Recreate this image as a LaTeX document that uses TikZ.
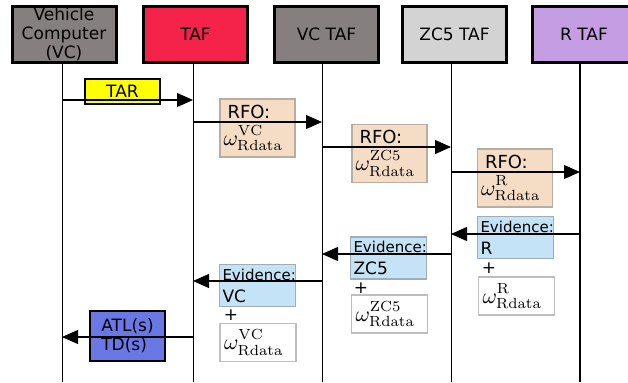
\documentclass[tikz,border=0pt]{standalone}
\usepackage{fontspec}
\newfontfamily\dejavu{DejaVu Sans}
\usetikzlibrary{positioning}
\usetikzlibrary{arrows.meta}
\definecolor{vcgray}{RGB}{134,127,127}
\definecolor{tafred}{RGB}{245,35,74}
\definecolor{zcgray}{RGB}{211,211,211}
\definecolor{rpurple}{RGB}{197,157,226}
\definecolor{taryellow}{RGB}{255,255,0}
\definecolor{rfofill}{RGB}{245,220,197}
\definecolor{rfoline}{RGB}{185,172,160}
\definecolor{evfill}{RGB}{197,227,246}
\definecolor{evline}{RGB}{160,172,182}
\definecolor{wline}{RGB}{190,190,190}
\definecolor{atlblue}{RGB}{106,120,230}
% omega with data owner on top and Rdata below
\newcommand{\wrdata}[1]{{\fontsize{10.5}{12}\selectfont$\omega^{\raisebox{1pt}{$\scriptstyle\mathrm{#1}$}}_{\mathrm{Rdata}}$}}

\begin{document}
\begin{tikzpicture}[x=0.5pt,y=-0.5pt,>={Triangle[length=8pt,width=7pt]},
    every node/.style={font=\dejavu\fontsize{8.5}{9.5}\selectfont},
    head/.style={draw,line width=1.5pt,minimum width=52pt,minimum height=28pt,inner sep=0pt,align=center},
    rfo/.style={draw=rfoline,fill=rfofill,line width=0.6pt,minimum height=29pt,text width=34pt,inner sep=1.75pt,align=left,font=\dejavu\fontsize{9}{13.5}\selectfont},
    evid/.style={draw=evline,fill=evfill,line width=0.6pt,minimum height=21pt,text width=35pt,inner sep=1.5pt,align=left,font=\dejavu\fontsize{8.5}{11}\selectfont},
    wbox/.style={draw=wline,fill=white,line width=0.6pt,minimum height=19pt,text width=34pt,inner sep=2pt,align=left},
    msg/.style={->,line width=0.6pt},
    ]
    \useasboundingbox (0,0) rectangle (628,382);
    \clip (0,0) rectangle (628,382);
    % life line positions and message heights
    \coordinate (l1) at (62,0);
    \coordinate (l2) at (193,0);
    \coordinate (l3) at (322,0);
    \coordinate (l4) at (451,0);
    \coordinate (l5) at (580,0);
    \coordinate (bot) at (0,382);
    \foreach \n/\y in {1/100,2/122,3/147,4/172,5/234,6/254,7/281,8/337}
        \coordinate (m\n) at (0,\y);
    % create the nodes
    \node[head,fill=vcgray] (vc) at (64,34) {Vehicle\\Computer\\(VC)};
    \node[head,fill=tafred] (taf) at (195.5,34.5) {TAF};
    \node[head,fill=vcgray] (vctaf) at (326.5,34.5) {VC TAF};
    \node[head,fill=zcgray] (zctaf) at (454.5,34.5) {ZC5 TAF};
    \node[head,fill=rpurple] (rtaf) at (584,34.5) {R TAF};
    % life lines
    \foreach \l/\h in {l1/vc,l2/taf,l3/vctaf,l4/zctaf}
        \draw[line width=0.5pt] (\l |- \h.south) -- (\l |- bot);
    \draw[line width=1pt] (l5 |- rtaf.south) -- (l5 |- bot);
    % requests
    \node[draw,fill=taryellow,line width=0.6pt,minimum width=37.5pt,minimum height=12.5pt,inner sep=0pt] (tar) at (122.5,91.5) {TAR};
    \node[rfo] (rfo1) at (257.5,128) {\hspace*{2pt}RFO:\\\wrdata{VC}};
    \node[rfo] (rfo2) at (389.5,153.5) {\hspace*{2pt}RFO:\\\wrdata{ZC5}};
    \node[rfo] (rfo3) at (515,178) {\hspace*{2pt}RFO:\\\wrdata{R}};
    % answers
    \node[evid] (evr) at (515.5,237.5) {{\fontsize{7.5}{9}\selectfont Evidence:}\\R};
    \node (plusr) at (489,268) {+};
    \node[wbox] (wr) at (516.5,296) {\wrdata{R}};
    \node[evid] (evzc) at (388.5,258) {{\fontsize{7.5}{9}\selectfont Evidence:}\\ZC5};
    \node (pluszc) at (361,288) {+};
    \node[wbox] (wzc) at (389.5,314) {\wrdata{ZC5}};
    \node[evid] (evvc) at (257.5,285.5) {{\fontsize{7.5}{9}\selectfont Evidence:}\\VC};
    \node (plusvc) at (231,315) {+};
    \node[wbox] (wvc) at (258,342.5) {\wrdata{VC}};
    \node[draw,fill=atlblue,line width=0.9pt,minimum width=37.5pt,minimum height=25pt,align=left,inner sep=1pt] (atl) at (127.5,336) {ATL(s)\\TD(s)};
    % messages
    \draw[msg] (l1 |- m1) -- (l2 |- m1);
    \draw[msg] (l2 |- m2) -- (l3 |- m2);
    \draw[msg] (l3 |- m3) -- (l4 |- m3);
    \draw[msg] (l4 |- m4) -- (l5 |- m4);
    \draw[msg] (l5 |- m5) -- (l4 |- m5);
    \draw[msg] (l4 |- m6) -- (l3 |- m6);
    \draw[msg] (l3 |- m7) -- (l2 |- m7);
    \draw[msg] (l2 |- m8) -- (l1 |- m8);
\end{tikzpicture}
\end{document}
